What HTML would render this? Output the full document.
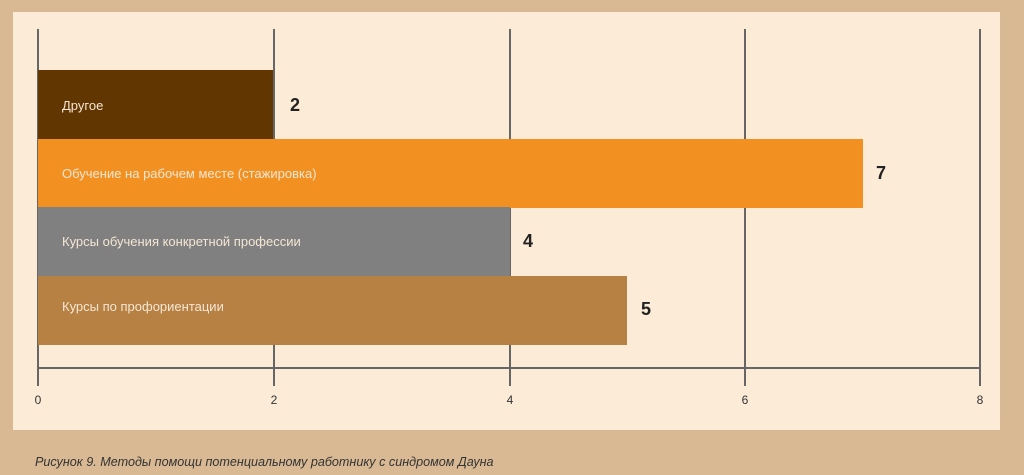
<!DOCTYPE html>
<html><head><meta charset="utf-8"><style>
body{margin:0;width:1024px;height:475px;background:#d9b994;position:relative;overflow:hidden;font-family:"Liberation Sans",sans-serif}
.panel{position:absolute;left:13px;top:12px;width:987px;height:418px;background:#fcebd6}
.g{position:absolute;top:29px;height:357px;width:1.5px;background:#666}
.bar{position:absolute;left:38px;height:69px}
.bl{position:absolute;left:62px;color:#f4e6d4;font-size:13px}
.v{position:absolute;font-size:18px;font-weight:bold;color:#222}
.t{position:absolute;top:393px;font-size:12px;color:#333;width:20px;margin-left:-10px;text-align:center}
</style></head><body>
<div class="panel"></div>
<div class="g" style="left:37px"></div>
<div class="g" style="left:273px"></div>
<div class="g" style="left:509px"></div>
<div class="g" style="left:744px"></div>
<div class="g" style="left:979px"></div>
<div style="position:absolute;left:38px;top:367px;width:943px;height:1.5px;background:#666"></div>
<div class="bar" style="top:70px;width:235px;background:#623600"></div>
<div class="bar" style="top:139px;width:825px;background:#f29121"></div>
<div class="bar" style="top:207px;width:472px;background:#808080"></div>
<div class="bar" style="top:276px;width:589px;background:#b78144"></div>
<div class="bl" style="top:98px">Другое</div>
<div class="bl" style="top:166px">Обучение на рабочем месте (стажировка)</div>
<div class="bl" style="top:234px">Курсы обучения конкретной профессии</div>
<div class="bl" style="top:299px">Курсы по профориентации</div>
<div class="v" style="left:290px;top:95px">2</div>
<div class="v" style="left:876px;top:163px">7</div>
<div class="v" style="left:523px;top:231px">4</div>
<div class="v" style="left:641px;top:299px">5</div>
<div class="t" style="left:38px">0</div>
<div class="t" style="left:274px">2</div>
<div class="t" style="left:510px">4</div>
<div class="t" style="left:745px">6</div>
<div class="t" style="left:980px">8</div>
<div style="position:absolute;left:35px;top:455px;font-size:12.6px;font-style:italic;color:#333">Рисунок 9. Методы помощи потенциальному работнику с синдромом Дауна</div>
</body></html>
